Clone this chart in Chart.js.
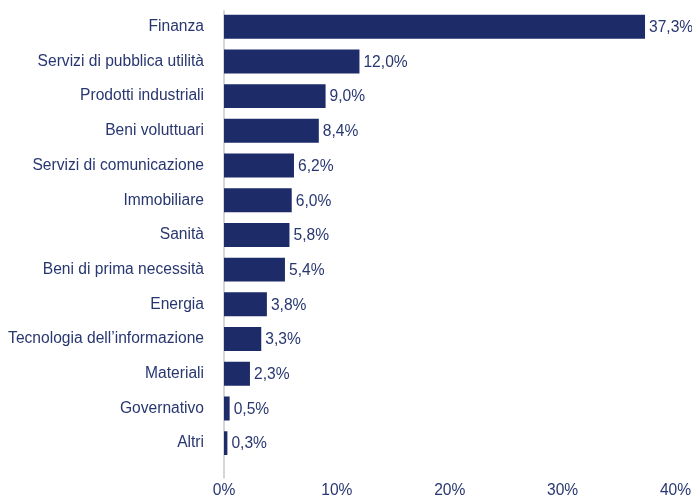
<!DOCTYPE html>
<html lang="it">
<head>
<meta charset="utf-8">
<script src="https://cdn.jsdelivr.net/npm/chart.js@4/dist/chart.umd.min.js"></script>
<style>
  html, body { margin: 0; padding: 0; background: #ffffff; overflow: hidden; }
  #wrap { position: relative; width: 692px; height: 510px; }
</style>
</head>
<body>
<div id="wrap"><canvas id="chart"></canvas></div>
<script>
// Ripartizione settoriale (%)
const categories = [
  'Finanza',
  'Servizi di pubblica utilità',
  'Prodotti industriali',
  'Beni voluttuari',
  'Servizi di comunicazione',
  'Immobiliare',
  'Sanità',
  'Beni di prima necessità',
  'Energia',
  'Tecnologia dell\u2019informazione',
  'Materiali',
  'Governativo',
  'Altri'
];
const weights = [37.3, 12.0, 9.0, 8.4, 6.2, 6.0, 5.8, 5.4, 3.8, 3.3, 2.3, 0.5, 0.3];
const xTicks = [0, 10, 20, 30, 40];

const NAVY = '#1d2b68';
const TEXT = '#283770';
const FONT = { family: '"Liberation Sans", Arial, sans-serif', size: 15.6 };

const fmt = v => v.toFixed(1).replace('.', ',') + '%';

// Vertical axis line, running a little past the last category
const axisLine = {
  id: 'axisLine',
  beforeDatasetsDraw(chart) {
    const { ctx, chartArea } = chart;
    ctx.save();
    ctx.strokeStyle = '#d3d7dc';
    ctx.lineWidth = 2;
    ctx.beginPath();
    ctx.moveTo(chartArea.left, chartArea.top + 1);
    ctx.lineTo(chartArea.left, chartArea.bottom + 18);
    ctx.stroke();
    ctx.restore();
  }
};

// Value labels at the end of each bar
const valueLabels = {
  id: 'valueLabels',
  afterDatasetsDraw(chart) {
    const { ctx } = chart;
    const meta = chart.getDatasetMeta(0);
    ctx.save();
    ctx.fillStyle = TEXT;
    ctx.font = `${FONT.size}px ${FONT.family}`;
    ctx.textAlign = 'left';
    ctx.textBaseline = 'middle';
    meta.data.forEach((bar, i) => {
      ctx.fillText(fmt(weights[i]), bar.x + 4, bar.y + 1);
    });
    ctx.restore();
  }
};

new Chart(document.getElementById('chart'), {
  type: 'bar',
  data: {
    labels: categories,
    datasets: [{
      data: weights,
      backgroundColor: NAVY,
      borderWidth: 0,
      barPercentage: 0.69,
      categoryPercentage: 1.0
    }]
  },
  options: {
    indexAxis: 'y',
    responsive: true,
    maintainAspectRatio: false,
    animation: false,
    layout: { padding: { top: 8, right: 16.5, left: 0, bottom: 0 } },
    plugins: {
      legend: { display: false },
      tooltip: { enabled: false }
    },
    scales: {
      x: {
        min: 0,
        max: 40,
        afterBuildTicks(scale) { scale.ticks = xTicks.map(v => ({ value: v })); },
        grid: { display: false, drawTicks: true, tickLength: 21 },
        border: { display: false },
        ticks: {
          color: TEXT,
          font: FONT,
          padding: 0,
          maxRotation: 0,
          callback: v => v + '%'
        },
        afterFit(scale) { scale.height = 49.5; }
      },
      y: {
        grid: { display: false, drawTicks: true, tickLength: 20 },
        border: { display: false },
        ticks: { color: TEXT, font: FONT, padding: 0 },
        afterFit(scale) { scale.width = 224; }
      }
    }
  },
  plugins: [axisLine, valueLabels]
});
</script>
</body>
</html>
